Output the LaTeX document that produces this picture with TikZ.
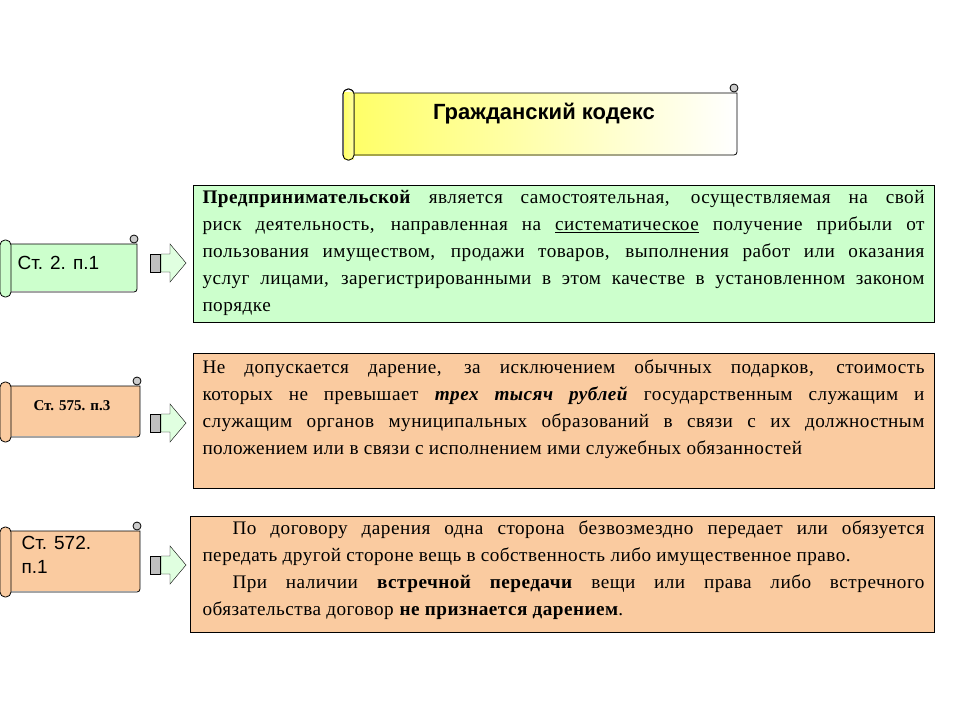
\documentclass[tikz,border=0pt]{standalone}
\usepackage{fontspec}
\setmainfont{Liberation Serif}
\newfontfamily\sansf{Liberation Sans}
\newfontfamily\spacedf[LetterSpace=2.5]{Liberation Serif}
\definecolor{gr}{HTML}{CCFFCC}
\definecolor{orb}{HTML}{FACBA0}
\definecolor{yel}{HTML}{FFFF66}
\newcommand\myscroll[6]{% x1 y1 x2 y2 fill name
  \fill[#5] ({#1+6},{#2+8}) rectangle ({#3-3},{#4-6});
  \draw[thick] ({#1+6},{#2+8}) -- ({#3-3},{#2+8}) -- ({#3-3},{#4-8}) arc[start angle=0,end angle=90,radius=3] -- ({#1+6},{#4-5});
  \draw[thick,fill=#5,rounded corners=5pt] (#1,{#2+4}) rectangle ({#1+11},#4);
  \draw[thick,fill=gray!40] ({#3-6},{#2+3}) circle (4);
  \coordinate (#6) at ({(#1+#3)/2},{(#2+#4)/2});
}
\newcommand\myarrow[3]{% x y name
  \draw[fill=gray!50] (#1,{#2-9}) rectangle ({#1+10},{#2+9});
  \draw[fill=gr!60] ({#1+11},{#2-9}) -- ({#1+20},{#2-9}) -- ({#1+20},{#2-19}) -- ({#1+36},#2) -- ({#1+20},{#2+19}) -- ({#1+20},{#2+9}) -- ({#1+11},{#2+9}) -- cycle;
  \coordinate (#3) at ({#1+36},#2);
}
\tikzset{txt/.style={font=\spacedf\fontsize{19.2}{27}\selectfont, text width=722pt, align=justify, inner sep=0pt}}
\begin{document}
\begin{tikzpicture}[x=1pt,y=-1pt]
\useasboundingbox (0,0) rectangle (960,720);
% title
\shade[left color=yel, right color=white] (349,93) rectangle (737,155);
\myscroll{343}{85}{740}{160}{white,fill opacity=0}{titlec}
\shade[left color=yel,right color=yel!60] (344,92) rectangle (354,159);
\draw[thick,rounded corners=5pt] (343,89) rectangle (354,160);
\node[font=\sansf\bfseries\fontsize{22}{24}\selectfont] (title) at (544,114) {Гражданский кодекс};
% boxes
\node[draw, fill=gr, minimum width=741pt, minimum height=137pt, anchor=north west, inner sep=0pt] (b1) at (193,185) {};
\node[txt, anchor=north] (t1) at (563.5,190) {\textbf{Предпринимательской} является самостоятельная, осуществляемая на свой\linebreak риск деятельность, направленная на \underline{систематическое} получение прибыли от\linebreak пользования имуществом, продажи товаров, выполнения работ или оказания\linebreak услуг лицами, зарегистрированными в этом качестве в установленном законом\linebreak порядке};
\node[draw, fill=orb, minimum width=741pt, minimum height=135pt, anchor=north west, inner sep=0pt] (b2) at (193,353) {};
\node[txt, anchor=north] (t2) at (563.5,360) {Не допускается дарение, за исключением обычных подарков, стоимость\linebreak которых не превышает \textbf{\textit{трех тысяч рублей}} государственным служащим и\linebreak служащим органов муниципальных образований в связи с их должностным\linebreak положением или в связи с исполнением ими служебных обязанностей};
\node[draw, fill=orb, minimum width=744pt, minimum height=116pt, anchor=north west, inner sep=0pt] (b3) at (190,516) {};
\node[txt, anchor=north] (t3) at (563.5,521) {\hspace*{30pt}По договору дарения одна сторона безвозмездно передает или обязуется\linebreak передать другой стороне вещь в собственность либо имущественное право.\par
\hspace*{30pt}При наличии \textbf{встречной передачи} вещи или права либо встречного\linebreak обязательства договор \textbf{не признается дарением}.};
% side scrolls
\myscroll{0}{236}{140}{297}{gr}{s1}
\node[font=\sansf\fontsize{19}{22}\selectfont, anchor=west] (l1) at (14,263) {Ст. 2. п.1};
\myscroll{0}{378}{143}{442}{orb}{s2}
\node[font=\bfseries\fontsize{15}{18}\selectfont, anchor=west] (l2) at (30,406) {Ст. 575. п.3};
\myscroll{0}{523}{143}{597}{orb}{s3}
\node[font=\sansf\fontsize{19}{24}\selectfont, anchor=north west, align=left] (l3) at (18,533) {Ст. 572.\\п.1};
\myarrow{150}{263}{a1}
\myarrow{150}{423}{a2}
\myarrow{150}{565}{a3}
\end{tikzpicture}
\end{document}
